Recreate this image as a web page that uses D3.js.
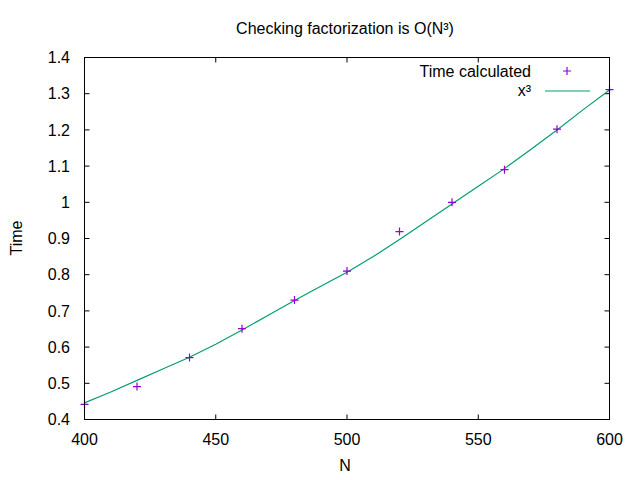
<!DOCTYPE html>
<html>
<head>
<meta charset="utf-8">
<script src="https://cdn.jsdelivr.net/npm/d3@7"></script>
<style>
  body { margin: 0; background: #fff; }
  text { font-family: "Liberation Sans", Arial, sans-serif; font-size: 16px; fill: #000; }
</style>
</head>
<body>
<svg id="chart" width="640" height="480"></svg>
<script>
"use strict";
// measured points
var sizes = [400, 420, 440, 460, 480, 500, 520, 540, 560, 580, 600];
var times = [0.442, 0.491, 0.571, 0.651, 0.730, 0.810, 0.919, 1.000, 1.090, 1.202, 1.311];
// x^3 curve
var curveN = [400, 410, 420, 430, 440, 450, 460, 470, 480, 490, 500, 510, 520, 530, 540, 550, 560, 570, 580, 590, 600];
var curveT = [0.446, 0.476, 0.508, 0.540, 0.572, 0.608, 0.647, 0.688, 0.729, 0.768, 0.807, 0.850, 0.897, 0.946, 0.995, 1.044, 1.093, 1.146, 1.200, 1.256, 1.310];
var xTicks = [400, 450, 500, 550, 600];
var yTicks = [0.4, 0.5, 0.6, 0.7, 0.8, 0.9, 1.0, 1.1, 1.2, 1.3, 1.4];

var svg = d3.select("#chart");
var plotL = 84.5, plotR = 609.5, plotT = 57.5, plotB = 419.5;
var tickLen = 5;

var x = d3.scaleLinear().domain([400, 600]).range([plotL, plotR]);
var y = d3.scaleLinear().domain([0.4, 1.4]).range([plotB, plotT]);

// ticks on all four sides, pointing inward
var ticks = svg.append("g").attr("stroke", "#000").attr("stroke-width", 1);
xTicks.forEach(function (v) {
    ticks.append("line").attr("x1", x(v)).attr("x2", x(v)).attr("y1", plotB).attr("y2", plotB - tickLen);
    ticks.append("line").attr("x1", x(v)).attr("x2", x(v)).attr("y1", plotT).attr("y2", plotT + tickLen);
});
yTicks.forEach(function (v) {
    ticks.append("line").attr("x1", plotL).attr("x2", plotL + tickLen).attr("y1", y(v)).attr("y2", y(v));
    ticks.append("line").attr("x1", plotR).attr("x2", plotR - tickLen).attr("y1", y(v)).attr("y2", y(v));
});

svg.append("g").selectAll("text")
    .data(xTicks)
    .enter()
    .append("text")
    .attr("x", d => x(d))
    .attr("y", 444.5)
    .attr("text-anchor", "middle")
    .text(d => d);

svg.append("g").selectAll("text")
    .data(yTicks)
    .enter()
    .append("text")
    .attr("x", 70)
    .attr("y", d => y(d) + 5.7)
    .attr("text-anchor", "end")
    .text(d => d3.format("~g")(d));

// curve
var line = d3.line().x(d => x(d[0])).y(d => y(d[1]));
svg.append("path")
    .datum(d3.zip(curveN, curveT))
    .attr("d", line)
    .attr("fill", "none")
    .attr("stroke", "#009e73")
    .attr("stroke-width", 1.2);

// points as plus signs
var plus = function (cx, cy) { return "M" + (cx - 4) + "," + cy + "H" + (cx + 4) + "M" + cx + "," + (cy - 4) + "V" + (cy + 4); };
svg.append("g").selectAll("path")
    .data(d3.zip(sizes, times))
    .enter()
    .append("path")
    .attr("d", d => plus(x(d[0]), y(d[1])))
    .attr("stroke", "#9400d3")
    .attr("stroke-width", 1.2)
    .attr("fill", "none");

// frame
svg.append("rect")
    .attr("x", plotL).attr("y", plotT)
    .attr("width", plotR - plotL).attr("height", plotB - plotT)
    .attr("fill", "none").attr("stroke", "#000").attr("stroke-width", 1);

// legend
svg.append("text").attr("x", 531).attr("y", 76.5).attr("text-anchor", "end").text("Time calculated");
svg.append("path").attr("d", plus(567, 71)).attr("stroke", "#9400d3").attr("stroke-width", 1.2);
svg.append("text").attr("x", 531).attr("y", 95.5).attr("text-anchor", "end").text("x³");
svg.append("line").attr("x1", 545).attr("x2", 590).attr("y1", 91).attr("y2", 91)
    .attr("stroke", "#009e73").attr("stroke-width", 1.2);

// titles
svg.append("text").attr("x", 345).attr("y", 34).attr("text-anchor", "middle").text("Checking factorization is O(N³)");
svg.append("text").attr("x", 345).attr("y", 471).attr("text-anchor", "middle").text("N");
svg.append("text")
    .attr("transform", "translate(22,238) rotate(-90)")
    .attr("text-anchor", "middle")
    .text("Time");
</script>
</body>
</html>
